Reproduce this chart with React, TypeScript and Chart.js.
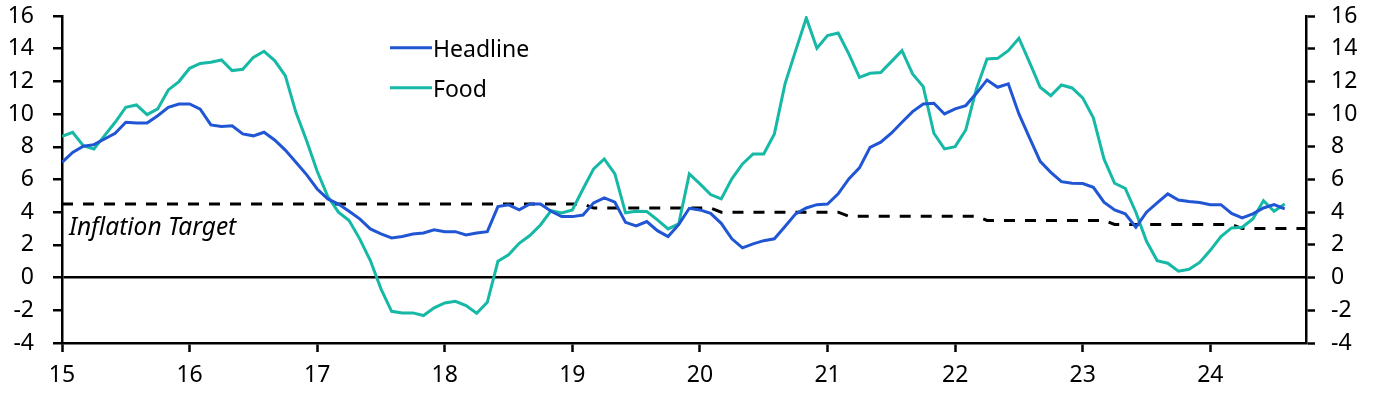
import React, { useEffect, useRef } from 'react';
import { Chart, registerables } from 'chart.js';

Chart.register(...registerables);

const START_YEAR = 15;
const X_MAX = 24.75;
const yearTicks = [15, 16, 17, 18, 19, 20, 21, 22, 23, 24];

// Monthly values from Jan-15 to Aug-24
const headline = [
  7.05, 7.66, 8.03, 8.13, 8.48, 8.83, 9.5, 9.45, 9.45, 9.9, 10.42, 10.62,
  10.62, 10.3, 9.34, 9.24, 9.28, 8.79, 8.67, 8.89, 8.42, 7.8, 7.05, 6.3,
  5.42, 4.81, 4.5, 4.06, 3.59, 2.98, 2.67, 2.43, 2.51, 2.67, 2.73, 2.92,
  2.81, 2.81, 2.61, 2.73, 2.81, 4.34, 4.45, 4.14, 4.5, 4.5, 4.06, 3.73,
  3.73, 3.83, 4.57, 4.87, 4.61, 3.38, 3.16, 3.43, 2.87, 2.51, 3.24, 4.24,
  4.14, 3.93, 3.32, 2.37, 1.82, 2.06, 2.26, 2.37, 3.12, 3.9, 4.26, 4.46,
  4.5, 5.12, 6.04, 6.71, 7.97, 8.28, 8.83, 9.5, 10.15, 10.62, 10.66, 10.01,
  10.32, 10.52, 11.27, 12.09, 11.64, 11.85, 10.01, 8.54, 7.11, 6.44, 5.87, 5.77,
  5.75, 5.52, 4.61, 4.14, 3.9, 3.08, 4.0, 4.57, 5.12, 4.75, 4.65, 4.59,
  4.46, 4.46, 3.93, 3.65, 3.9, 4.26, 4.46, 4.2,
];

const food = [
  8.64, 8.89, 8.07, 7.87, 8.68, 9.5, 10.42, 10.56, 9.97, 10.32, 11.48, 11.99,
  12.8, 13.1, 13.17, 13.31, 12.66, 12.74, 13.47, 13.84, 13.27, 12.35, 10.11, 8.38,
  6.5, 4.96, 4.0, 3.49, 2.37, 1.04, -0.69, -2.06, -2.16, -2.16, -2.32, -1.85,
  -1.55, -1.45, -1.71, -2.18, -1.51, 1.0, 1.39, 2.1, 2.57, 3.22, 4.1, 3.96,
  4.14, 5.42, 6.65, 7.26, 6.34, 3.96, 4.06, 4.04, 3.53, 2.98, 3.28, 6.34,
  5.73, 5.08, 4.81, 6.04, 6.95, 7.56, 7.56, 8.79, 11.85, 13.88, 15.88, 14.03,
  14.8, 14.96, 13.68, 12.25, 12.5, 12.54, 13.21, 13.88, 12.46, 11.68, 8.83, 7.87,
  8.01, 9.03, 11.54, 13.37, 13.41, 13.88, 14.64, 13.17, 11.64, 11.13, 11.78, 11.6,
  10.99, 9.77, 7.26, 5.77, 5.46, 4.0, 2.22, 1.04, 0.88, 0.39, 0.51, 0.93,
  1.67, 2.51, 3.04, 3.08, 3.59, 4.71, 4.06, 4.5,
];

// Inflation target: months since Jan-15 at each corner of the step line
const targetMonths = [0, 49, 50, 61, 62, 73, 74, 86, 87, 98, 99, 110, 111, 117];
const targetValues = [4.5, 4.5, 4.25, 4.25, 4.0, 4.0, 3.75, 3.75, 3.5, 3.5, 3.25, 3.25, 3.0, 3.0];

const BLUE = '#2055d3';
const TEAL = '#16b8a6';
const FONT = "'Noto Sans', 'Open Sans', sans-serif";

const overlayPlugin = {
  id: 'overlay',
  afterDatasetsDraw(chart: any) {
    const { ctx, chartArea } = chart;
    ctx.save();
    ctx.fillStyle = '#000';
    ctx.textAlign = 'left';
    ctx.textBaseline = 'alphabetic';
    ctx.font = `italic 24.5px ${FONT}`;
    ctx.fillText('Inflation Target', chartArea.left + 7, 235);

    const items = chart.data.datasets.slice(0, 2);
    items.forEach((ds: any, i: number) => {
      const yLine = 47.7 + i * 40;
      ctx.strokeStyle = ds.borderColor;
      ctx.lineWidth = 3;
      ctx.beginPath();
      ctx.moveTo(390, yLine);
      ctx.lineTo(432, yLine);
      ctx.stroke();
      ctx.fillStyle = '#000';
      ctx.font = `23px ${FONT}`;
      ctx.fillText(ds.label, 433, yLine + 9.3);
    });
    ctx.restore();
  },
};

export default function App() {
  const ref = useRef<HTMLCanvasElement>(null);
  useEffect(() => {
    document.body.style.margin = '0';
    const toPts = (arr: number[]) => arr.map((v, i) => ({ x: START_YEAR + i / 12, y: v }));
    const tickFont = { family: FONT, size: 23 };
    const fitY = (w: number) => (s: any) => {
      s.width = w;
      s.paddingTop = 0;
      s.paddingBottom = 0;
    };
    const chart = new Chart(ref.current as HTMLCanvasElement, {
      type: 'line',
      data: {
        datasets: [
          {
            label: 'Headline',
            data: toPts(headline),
            borderColor: BLUE,
            backgroundColor: BLUE,
            borderWidth: 3,
            pointRadius: 0,
            tension: 0,
            yAxisID: 'y',
          },
          {
            label: 'Food',
            data: toPts(food),
            borderColor: TEAL,
            backgroundColor: TEAL,
            borderWidth: 3,
            pointRadius: 0,
            tension: 0,
            yAxisID: 'y',
          },
          {
            label: 'Inflation Target',
            data: targetMonths.map((m, i) => ({ x: START_YEAR + m / 12, y: targetValues[i] })),
            borderColor: '#000',
            backgroundColor: '#000',
            borderWidth: 3,
            borderDash: [11, 10],
            pointRadius: 0,
            tension: 0,
            yAxisID: 'y',
          },
        ],
      },
      options: {
        responsive: false,
        animation: false,
        devicePixelRatio: 1,
        layout: { padding: { top: 16, left: 0, right: 0, bottom: 0 } },
        plugins: { legend: { display: false }, tooltip: { enabled: false } },
        scales: {
          x: {
            type: 'linear',
            min: START_YEAR,
            max: X_MAX,
            afterBuildTicks: (s: any) => {
              s.ticks = yearTicks.map((v) => ({ value: v }));
            },
            afterFit: (s: any) => {
              s.height = 50;
            },
            grid: {
              drawOnChartArea: false,
              drawTicks: true,
              tickLength: 9,
              tickColor: '#000',
              tickWidth: 2.5,
            },
            border: { display: true, color: '#000', width: 2.5 },
            ticks: {
              font: tickFont,
              color: '#000',
              padding: 10,
              maxRotation: 0,
              autoSkip: false,
              callback: (v: any) => String(v),
            },
          },
          y: {
            position: 'left',
            min: -4,
            max: 16,
            afterFit: fitY(62),
            grid: {
              color: (c: any) => (c.tick && c.tick.value === 0 ? '#000' : 'rgba(0,0,0,0)'),
              lineWidth: 2.5,
              tickColor: '#000',
              tickLength: 9,
              tickWidth: 2.5,
            },
            border: { display: true, color: '#000', width: 2.5 },
            ticks: { stepSize: 2, font: tickFont, color: '#000', padding: 19 },
          },
          y1: {
            position: 'right',
            min: -4,
            max: 16,
            afterFit: fitY(68),
            grid: {
              drawOnChartArea: false,
              tickColor: '#000',
              tickLength: 9,
              tickWidth: 2.5,
            },
            border: { display: true, color: '#000', width: 2.5 },
            ticks: { stepSize: 2, font: tickFont, color: '#000', padding: 16 },
          },
        },
      },
      plugins: [overlayPlugin],
    });
    return () => chart.destroy();
  }, []);
  return <canvas ref={ref} width={1374} height={393} style={{ display: 'block' }} />;
}
